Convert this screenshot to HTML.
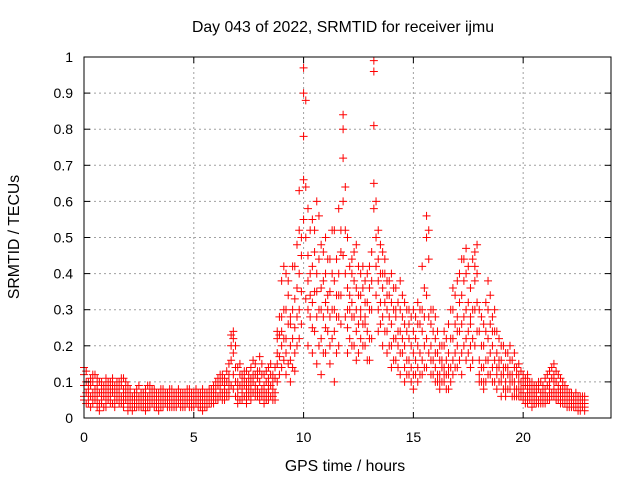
<!DOCTYPE html>
<html><head><meta charset="utf-8"><style>
body{margin:0;background:#fff}
svg{display:block;font-family:"Liberation Sans",sans-serif}
</style></head><body>
<svg id="chart" width="640" height="480">
<rect x="0" y="0" width="640" height="480" fill="#fff"/>
<g id="grid"></g>
<g id="points"></g>
<rect x="84" y="57" width="527" height="361" fill="none" stroke="#000" stroke-width="1"/>
<g id="ticks"></g>
<text x="343" y="32" text-anchor="middle" font-size="15.8">Day 043 of 2022, SRMTID for receiver ijmu</text>
<text x="345" y="471" text-anchor="middle" font-size="15.8">GPS time / hours</text>
<text x="19" y="237" text-anchor="middle" font-size="15.8" transform="rotate(-90 19 237)">SRMTID / TECUs</text>
</svg>
<script>
const xTicks=[0,5,10,15,20];
const yTicks=[0,0.1,0.2,0.3,0.4,0.5,0.6,0.7,0.8,0.9,1];
const yTickLabels=["0","0.1","0.2","0.3","0.4","0.5","0.6","0.7","0.8","0.9","1"];
const hours=[0,0.2,0.4,0.6,0.8,1.0,1.2,1.4,1.6,1.8,2.0,2.2,2.4,2.6,2.8,3.0,3.2,3.4,3.6,3.8,4.0,4.2,4.4,4.6,4.8,5.0,5.2,5.4,5.6,5.8,6.0,6.2,6.4,6.6,6.8,7.0,7.2,7.4,7.6,7.8,8.0,8.2,8.4,8.6,8.8,9.0,9.2,9.4,9.6,9.8,10.0,10.2,10.4,10.6,10.8,11.0,11.2,11.4,11.6,11.8,12.0,12.2,12.4,12.6,12.8,13.0,13.2,13.4,13.6,13.8,14.0,14.2,14.4,14.6,14.8,15.0,15.2,15.4,15.6,15.8,16.0,16.2,16.4,16.6,16.8,17.0,17.2,17.4,17.6,17.8,18.0,18.2,18.4,18.6,18.8,19.0,19.2,19.4,19.6,19.8,20.0,20.2,20.4,20.6,20.8,21.0,21.2,21.4,21.6,21.8,22.0,22.2,22.4,22.6,22.8];
const tecu=[
[.14,.06,.09,.12,.05],[.08,.05,.10,.04,.07],[.07,.10,.04,.12,.06],[.05,.09,.03,.07,.11],[.06,.04,.08,.10,.05],
[.07,.03,.09,.05,.11],[.04,.08,.06,.10,.05],[.06,.09,.03,.07,.04],[.05,.08,.10,.04,.07],[.06,.11,.03,.08,.05],
[.04,.07,.02,.05,.09],[.03,.05,.02,.06,.04],[.04,.06,.03,.08,.05],[.05,.03,.07,.04,.06],[.04,.08,.02,.06,.05],
[.05,.03,.07,.04,.09],[.06,.04,.08,.03,.05],[.04,.07,.02,.06,.05],[.05,.08,.03,.06,.04],[.03,.06,.04,.07,.05],
[.04,.06,.03,.05,.08],[.05,.03,.07,.04,.06],[.03,.06,.04,.05,.07],[.04,.07,.03,.05,.06],[.05,.03,.06,.04,.08],
[.04,.06,.03,.05,.07],[.05,.03,.07,.04,.06],[.04,.06,.02,.05,.08],[.05,.07,.03,.06,.04],[.06,.04,.08,.05,.07],
[.07,.05,.10,.06,.09],[.08,.06,.12,.07,.10],[.06,.09,.05,.11,.08],[.12,.08,.15,.06,.10],[.22,.18,.24,.12,.08],
[.10,.06,.14,.08,.04],[.08,.05,.12,.07,.10],[.06,.10,.04,.08,.13],[.07,.11,.05,.09,.14],[.09,.06,.12,.08,.15],
[.10,.07,.13,.05,.17],[.06,.09,.04,.12,.08],[.07,.11,.05,.09,.14],[.08,.05,.12,.06,.10],[.15,.22,.10,.24,.18],
[.20,.28,.14,.38,.24],[.18,.30,.12,.40,.22],[.16,.28,.10,.26,.20],[.25,.42,.18,.33,.13],[.30,.52,.22,.63,.40],
[.97,.90,.78,.66,.55],[.45,.30,.58,.20,.38],[.32,.55,.25,.42,.18],[.40,.60,.28,.35,.15],[.30,.48,.22,.36,.12],
[.25,.40,.18,.32,.50],[.35,.28,.44,.20,.15],[.30,.52,.24,.38,.10],[.40,.58,.28,.34,.20],[.84,.80,.72,.45,.60],
[.36,.25,.50,.30,.18],[.32,.44,.20,.28,.40],[.36,.24,.30,.48,.16],[.40,.28,.34,.22,.30],[.38,.26,.20,.32,.28],
[.30,.42,.22,.36,.16],[.99,.96,.81,.65,.58],[.52,.44,.38,.30,.24],[.46,.36,.28,.40,.20],[.38,.30,.24,.34,.18],
[.32,.26,.40,.20,.14],[.36,.28,.22,.30,.16],[.30,.24,.38,.18,.12],[.26,.32,.20,.14,.10],[.22,.30,.16,.12,.26],
[.18,.24,.12,.30,.08],[.20,.26,.14,.10,.32],[.24,.16,.30,.12,.42],[.56,.50,.34,.22,.14],[.30,.20,.26,.12,.16],
[.22,.14,.18,.10,.28],[.16,.10,.20,.12,.08],[.14,.20,.10,.24,.12],[.18,.12,.26,.08,.14],[.30,.22,.36,.16,.12],
[.28,.38,.20,.14,.24],[.34,.44,.26,.18,.12],[.40,.47,.30,.22,.16],[.36,.28,.20,.14,.26],[.46,.42,.38,.30,.20],
[.24,.16,.30,.12,.10],[.20,.14,.26,.10,.08],[.30,.38,.22,.16,.12],[.28,.20,.14,.10,.24],[.18,.12,.24,.08,.14],
[.16,.10,.20,.06,.12],[.14,.08,.18,.10,.06],[.12,.16,.08,.20,.10],[.10,.14,.06,.18,.08],[.12,.08,.15,.06,.10],
[.08,.12,.05,.10,.07],[.06,.10,.04,.08,.12],[.05,.08,.03,.07,.10],[.06,.04,.09,.05,.07],[.07,.05,.10,.04,.06],
[.08,.05,.11,.06,.04],[.10,.06,.13,.08,.05],[.12,.08,.15,.06,.10],[.09,.06,.12,.05,.08],[.07,.05,.10,.04,.08],
[.06,.04,.08,.03,.05],[.05,.03,.07,.04,.06],[.04,.06,.03,.05,.07],[.05,.03,.06,.04,.02],[.04,.05,.03,.06,.02]
];
const hours2=[0.1,0.3,0.5,0.7,0.9,1.1,1.3,1.5,1.7,1.9,2.1,2.3,2.5,2.7,2.9,3.1,3.3,3.5,3.7,3.9,4.1,4.3,4.5,4.7,4.9,5.1,5.3,5.5,5.7,5.9,6.1,6.3,6.5,6.7,6.9,7.1,7.3,7.5,7.7,7.9,8.1,8.3,8.5,8.7,8.9,9.1,9.3,9.5,9.7,9.9,10.1,10.3,10.5,10.7,10.9,11.1,11.3,11.5,11.7,11.9,12.1,12.3,12.5,12.7,12.9,13.1,13.3,13.5,13.7,13.9,14.1,14.3,14.5,14.7,14.9,15.1,15.3,15.5,15.7,15.9,16.1,16.3,16.5,16.7,16.9,17.1,17.3,17.5,17.7,17.9,18.1,18.3,18.5,18.7,18.9,19.1,19.3,19.5,19.7,19.9,20.1,20.3,20.5,20.7,20.9,21.1,21.3,21.5,21.7,21.9,22.1,22.3,22.5,22.7];
const tecu2=[
[.10,.07,.04,.13],[.09,.06,.11,.03],[.08,.05,.12,.06],[.10,.04,.07,.02],[.09,.06,.03,.07],
[.08,.05,.10,.06],[.07,.11,.04,.09],[.08,.05,.10,.06],[.09,.06,.04,.11],[.07,.10,.05,.08],
[.06,.03,.08,.04],[.05,.07,.03,.06],[.06,.04,.09,.03],[.07,.05,.03,.06],[.06,.09,.04,.03],
[.07,.04,.06,.08],[.05,.07,.03,.06],[.06,.04,.08,.03],[.04,.07,.05,.06],[.06,.04,.08,.03],
[.05,.07,.03,.06],[.06,.04,.08,.05],[.05,.07,.03,.06],[.06,.04,.05,.08],[.04,.07,.05,.03],
[.06,.04,.08,.05],[.04,.07,.05,.03],[.06,.03,.07,.05],[.04,.06,.08,.05],[.07,.05,.09,.04],
[.09,.06,.11,.05],[.07,.10,.05,.12],[.10,.07,.13,.06],[.20,.16,.23,.09],[.14,.10,.20,.06],
[.09,.12,.05,.15],[.11,.06,.09,.13],[.08,.12,.06,.10],[.12,.07,.10,.16],[.08,.11,.06,.13],
[.12,.08,.15,.06],[.10,.07,.13,.05],[.09,.12,.06,.15],[.11,.07,.14,.05],[.23,.17,.28,.12],
[.30,.22,.42,.16],[.26,.34,.15,.38],[.22,.30,.14,.42],[.36,.28,.48,.20],[.50,.45,.35,.26],
[.88,.64,.50,.33],[.52,.40,.28,.34],[.46,.35,.24,.52],[.44,.56,.30,.20],[.38,.28,.46,.18],
[.34,.44,.24,.30],[.40,.30,.52,.22],[.28,.44,.34,.18],[.46,.34,.26,.52],[.64,.52,.40,.28],
[.42,.30,.22,.34],[.38,.28,.46,.20],[.34,.42,.26,.18],[.36,.26,.42,.20],[.32,.24,.40,.16],
[.38,.30,.46,.22],[.60,.50,.42,.34],[.48,.40,.32,.26],[.40,.32,.24,.44],[.34,.28,.38,.20],
[.30,.22,.36,.16],[.32,.24,.20,.14],[.28,.34,.18,.22],[.24,.30,.16,.12],[.20,.28,.14,.10],
[.22,.16,.28,.12],[.18,.26,.12,.30],[.28,.20,.14,.36],[.52,.44,.28,.18],[.24,.16,.30,.12],
[.18,.12,.24,.10],[.14,.20,.10,.16],[.16,.12,.22,.08],[.22,.14,.30,.10],[.26,.18,.34,.14],
[.32,.24,.40,.16],[.38,.28,.44,.20],[.42,.32,.24,.18],[.30,.22,.44,.16],[.40,.48,.32,.24],
[.20,.28,.14,.10],[.24,.16,.32,.10],[.34,.26,.18,.12],[.24,.16,.30,.10],[.16,.22,.10,.14],
[.14,.20,.08,.12],[.12,.18,.08,.14],[.10,.16,.06,.12],[.14,.08,.12,.06],[.10,.06,.13,.08],
[.09,.06,.11,.04],[.07,.10,.05,.08],[.06,.09,.04,.07],[.08,.05,.10,.04],[.06,.09,.04,.07],
[.09,.06,.12,.05],[.11,.07,.14,.06],[.10,.07,.13,.05],[.08,.06,.11,.04],[.06,.09,.04,.07],
[.05,.07,.03,.06],[.04,.06,.03,.05],[.05,.03,.06,.02],[.04,.06,.03,.05]
];
const NS="http://www.w3.org/2000/svg";
const L=84,R=611,T=57,B=418;
function xScale(h){return L+h/24*(R-L);}
function yScale(v){return B-v*(B-T);}
function mk(tag,attrs,parent){const e=document.createElementNS(NS,tag);for(const k in attrs)e.setAttribute(k,attrs[k]);parent.appendChild(e);return e;}
const grid=document.getElementById('grid'),ticks=document.getElementById('ticks'),pts=document.getElementById('points');
xTicks.forEach(t=>{
  const x=xScale(t);
  if(t>0){const g=mk('line',{x1:x,x2:x,y1:T,y2:B,stroke:'#a0a0a0','stroke-dasharray':'2,3'},grid);
  
  }
  mk('line',{x1:x,x2:x,y1:B,y2:B-6,stroke:'#000'},ticks);
  mk('line',{x1:x,x2:x,y1:T,y2:T+6,stroke:'#000'},ticks);
  const tx=mk('text',{x:x,y:B+24,'text-anchor':'middle','font-size':14},ticks);
  tx.textContent=t;
  
  
});
yTicks.forEach((t,i)=>{
  const y=yScale(t);
  if(t>0&&t<1){const g=mk('line',{x1:L,x2:R,y1:y,y2:y,stroke:'#a0a0a0','stroke-dasharray':'2,3'},grid);
  
  }
  mk('line',{x1:L,x2:L+6,y1:y,y2:y,stroke:'#000'},ticks);
  mk('line',{x1:R,x2:R-6,y1:y,y2:y,stroke:'#000'},ticks);
  const tx=mk('text',{x:73,y:y+5,'text-anchor':'end','font-size':14},ticks);
  tx.textContent=yTickLabels[i];
  
  
});
let d='';
function addSeries(hs,vals){
  hs.forEach((h,i)=>{
    const x=xScale(h);
    vals[i].forEach(v=>{const y=yScale(v);d+=`M${x-4} ${y}h8M${x} ${y-4}v8`;});
  });
}
addSeries(hours,tecu);
addSeries(hours2,tecu2);
const p=mk('path',{d:d,stroke:'#ff0000','stroke-width':1,fill:'none'},pts);


</script>
</body></html>
